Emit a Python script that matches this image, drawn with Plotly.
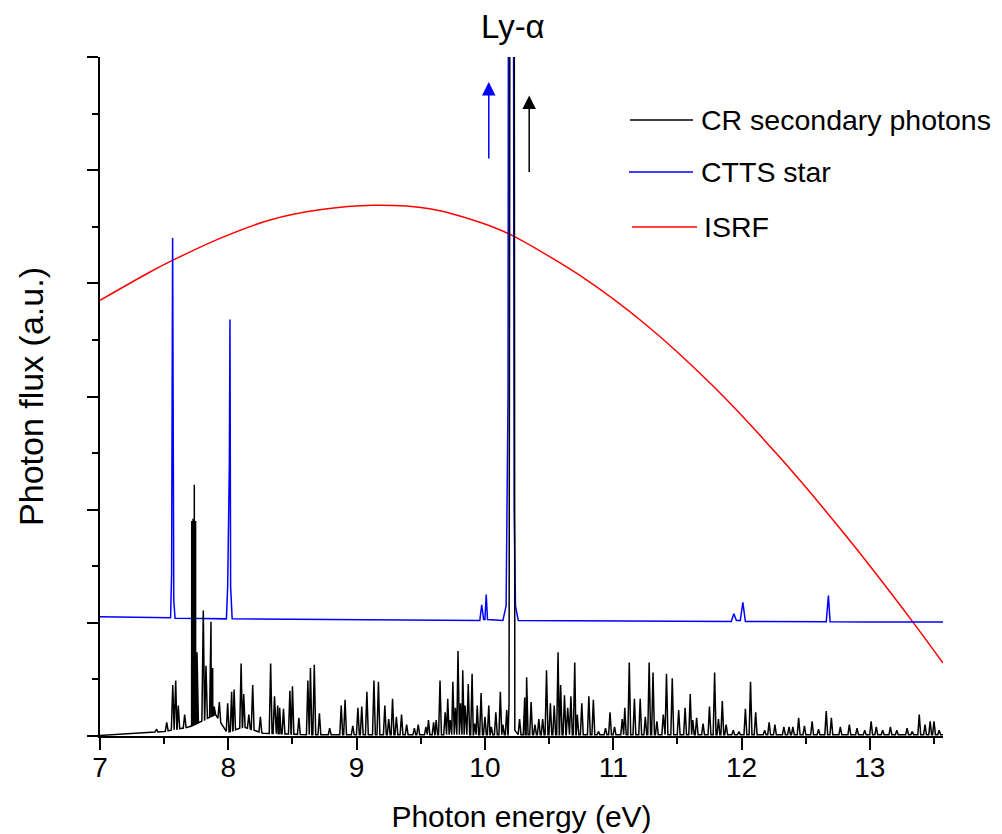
import numpy as np
import plotly.graph_objects as go

# ---------------- data ----------------
# ISRF (red)
isrf_e = [7.0, 7.39, 7.56, 7.94, 8.325, 8.71, 9.13, 9.57, 9.96, 10.20, 10.74,
          11.26, 11.78, 12.30, 12.82, 13.34, 13.57]
isrf_f = [3.85, 4.10, 4.20, 4.40, 4.56, 4.65, 4.69, 4.66, 4.54, 4.43, 4.07,
          3.63, 3.09, 2.46, 1.76, 1.00, 0.645]

# CTTS star (blue) - explicit vertices
ctts_e = [7.0, 7.3, 7.55, 7.558, 7.566, 7.575, 7.585, 7.8, 7.985, 7.995, 8.003, 8.008,
          8.013, 8.018, 8.03, 8.5, 9.0, 9.5, 9.96, 9.975, 9.99, 10.0, 10.01, 10.02,
          10.14, 10.165, 10.18, 10.185, 10.22, 10.228, 10.238, 10.26, 10.6, 11.0,
          11.5, 11.92, 11.94, 11.96, 11.99, 12.01, 12.03, 12.3, 12.66, 12.677,
          12.69, 13.0, 13.57]
ctts_f = [1.054, 1.05, 1.045, 1.42, 4.40, 1.2, 1.04, 1.038, 1.035, 1.32, 2.02, 2.39,
          3.68, 1.32, 1.035, 1.032, 1.03, 1.025, 1.02, 1.16, 1.03, 1.03, 1.25, 1.03,
          1.02, 1.15, 3.0, 9.0, 9.0, 2.0, 1.15, 1.02, 1.018, 1.015,
          1.012, 1.012, 1.08, 1.02, 1.02, 1.18, 1.012, 1.01, 1.01, 1.24,
          1.01, 1.008, 1.007]

# CR secondary photons (black) - continuum nodes
cr_cont_e = [7.0, 7.3, 7.5, 7.7, 7.9, 7.99, 8.12, 8.27, 8.6, 13.57]
cr_cont_f = [0.005, 0.025, 0.04, 0.08, 0.19, 0.03, 0.08, 0.025, 0.012, 0.012]

# CR secondary photons - line peaks (energy, height)
cr_peak_e = [7.44, 7.52, 7.567, 7.59, 7.61, 7.66, 7.715, 7.725, 7.735, 7.745, 7.756,
             7.805, 7.826, 7.865, 7.878, 7.89, 7.93, 7.995, 8.026, 8.045, 8.10, 8.12,
             8.16, 8.19, 8.25, 8.33, 8.36, 8.385, 8.40, 8.43, 8.48, 8.50, 8.55, 8.62,
             8.64, 8.67, 8.71, 8.79, 8.88, 8.91, 8.97, 9.01, 9.04, 9.08, 9.135, 9.17,
             9.22, 9.25, 9.28, 9.31, 9.35, 9.39, 9.45, 9.48, 9.54, 9.56, 9.60, 9.62,
             9.65, 9.69, 9.71, 9.73, 9.75, 9.77, 9.79, 9.81, 9.827, 9.845, 9.87, 9.90,
             9.92, 9.94, 9.97, 10.00, 10.03, 10.05, 10.085, 10.12, 10.14, 10.17, 10.19,
             10.27, 10.31, 10.325, 10.36, 10.39, 10.42, 10.45, 10.48, 10.51, 10.54,
             10.57, 10.59, 10.62, 10.645, 10.67, 10.70, 10.72, 10.755, 10.81, 10.845,
             10.885, 10.94, 10.975, 11.01, 11.07, 11.09, 11.125, 11.165, 11.21, 11.25,
             11.28, 11.31, 11.34, 11.39, 11.415, 11.46, 11.51, 11.56, 11.60, 11.62,
             11.65, 11.70, 11.75, 11.79, 11.82, 11.85, 11.88, 11.935, 11.98, 12.03,
             12.07, 12.11, 12.18, 12.215, 12.26, 12.33, 12.37, 12.40, 12.445, 12.49,
             12.55, 12.60, 12.66, 12.70, 12.77, 12.84, 12.90, 12.96, 13.01, 13.05,
             13.10, 13.16, 13.21, 13.29, 13.33, 13.385, 13.43, 13.47, 13.50, 13.54]
cr_peak_f = [0.06, 0.12, 0.45, 0.49, 0.27, 0.19, 1.90, 1.92, 2.22, 1.90, 0.74,
             1.11, 0.62, 1.01, 0.60, 0.26, 0.30, 0.29, 0.39, 0.41, 0.64, 0.37,
             0.19, 0.45, 0.17, 0.64, 0.35, 0.27, 0.25, 0.24, 0.40, 0.44, 0.16, 0.49,
             0.60, 0.63, 0.20, 0.07, 0.27, 0.32, 0.09, 0.25, 0.26, 0.39, 0.49, 0.48,
             0.27, 0.15, 0.33, 0.17, 0.19, 0.10, 0.07, 0.10, 0.08, 0.14, 0.12, 0.14,
             0.49, 0.21, 0.33, 0.14, 0.48, 0.25, 0.75, 0.29, 0.58, 0.27, 0.46, 0.55,
             0.11, 0.27, 0.38, 0.17, 0.27, 0.08, 0.21, 0.39, 0.10, 0.23, 0.49,
             0.15, 0.34, 0.52, 0.30, 0.10, 0.15, 0.15, 0.58, 0.29, 0.27,
             0.74, 0.45, 0.36, 0.25, 0.35, 0.65, 0.19, 0.29, 0.35, 0.32,
             0.04, 0.07, 0.21, 0.08, 0.15, 0.25, 0.65, 0.33, 0.33, 0.17,
             0.65, 0.56, 0.13, 0.19, 0.55, 0.51, 0.23, 0.25, 0.37, 0.14,
             0.16, 0.11, 0.26, 0.56, 0.15, 0.31, 0.10, 0.05, 0.04, 0.24,
             0.48, 0.21, 0.05, 0.12, 0.10, 0.08, 0.08, 0.08, 0.16, 0.09,
             0.13, 0.06, 0.22, 0.16, 0.08, 0.10, 0.07, 0.05, 0.13, 0.08,
             0.05, 0.08, 0.05, 0.07, 0.04, 0.19, 0.10, 0.13, 0.13, 0.05]

# Lyman-alpha line of the CR spectrum (goes off scale)
lya_e = [10.188, 10.197, 10.227, 10.233]
lya_f = [0.30, 9.0, 9.0, 0.05]

x_ticks = [7, 8, 9, 10, 11, 12, 13]
x_range = [7.0, 13.57]
y_range = [0.0, 6.0]

# ---------------- build CR line vertices from the values above ----------------
hw = 0.011
pts = []
pe = np.array(cr_peak_e)
for e, f in zip(cr_peak_e, cr_peak_f):
    pts.append((e - hw, float(np.interp(e - hw, cr_cont_e, cr_cont_f))))
    pts.append((e, f))
    pts.append((e + hw, float(np.interp(e + hw, cr_cont_e, cr_cont_f))))
for e, f in zip(cr_cont_e, cr_cont_f):
    if np.min(np.abs(pe - e)) > hw:
        pts.append((e, f))
pts = [p for p in pts if not (10.185 <= p[0] <= 10.24)]
pts += list(zip(lya_e, lya_f))
pts.sort(key=lambda p: p[0])
cr_x = [p[0] for p in pts]
cr_y = [p[1] for p in pts]

FONT = "Liberation Sans, Arial, sans-serif"

fig = go.Figure()
fig.add_trace(go.Scatter(x=isrf_e, y=isrf_f, mode="lines", name="ISRF",
                         line=dict(color="#ff0000", width=1.5, shape="spline", smoothing=0.8),
                         showlegend=False))
fig.add_trace(go.Scatter(x=ctts_e, y=ctts_f, mode="lines", name="CTTS star",
                         line=dict(color="#0000ff", width=1.5), showlegend=False))
fig.add_trace(go.Scatter(x=cr_x, y=cr_y, mode="lines", name="CR secondary photons",
                         line=dict(color="#000000", width=1.5), showlegend=False))

axis_common = dict(showgrid=False, zeroline=False, showline=True, linecolor="black",
                   linewidth=1.5, ticks="outside", tickcolor="black", tickwidth=1.5)

fig.update_xaxes(range=x_range, tickvals=x_ticks, ticklen=12, ticklabelstandoff=-6,
                 minor=dict(dtick=0.5, ticklen=6, tickwidth=1.5, tickcolor="black",
                            ticks="outside"),
                 tickfont=dict(family=FONT, size=28, color="black"),
                 title=dict(text="Photon energy (eV)",
                            font=dict(family=FONT, size=30, color="black"), standoff=24),
                 **axis_common)
fig.update_yaxes(range=y_range, dtick=1, ticklen=11, showticklabels=False,
                 minor=dict(dtick=0.5, ticklen=6, tickwidth=1.5, tickcolor="black",
                            ticks="outside"),
                 title=dict(text="Photon flux (a.u.)",
                            font=dict(family=FONT, size=34, color="black"), standoff=33),
                 **axis_common)

# legend drawn as lines + labels
legend_items = [("CR secondary photons", "#000000", 0.6287, 0.7034, 0.9072, 0.7105),
                ("CTTS star", "#0000ff", 0.6275, 0.7034, 0.8306, 0.7105),
                ("ISRF", "#ff0000", 0.6311, 0.7082, 0.7496, 0.7141)]
annotations = []
shapes = []
for name, col, x0, x1, yy, tx in legend_items:
    shapes.append(dict(type="line", xref="paper", yref="paper", x0=x0, x1=x1,
                       y0=yy, y1=yy, line=dict(color=col, width=1.5)))
    annotations.append(dict(text=name, xref="paper", yref="paper", x=tx, y=yy,
                            xanchor="left", yanchor="middle", showarrow=False,
                            font=dict(family=FONT, size=28.5, color="black")))

annotations.append(dict(text="Ly-α", xref="x", yref="paper", x=10.22, y=1.045,
                        xanchor="center", yanchor="middle", showarrow=False,
                        font=dict(family=FONT, size=33, color="black")))
# arrows marking off-scale Ly-alpha lines
annotations.append(dict(text="", xref="x", yref="y", axref="x", ayref="y",
                        x=10.03, y=5.78, ax=10.03, ay=5.09, showarrow=True,
                        arrowhead=2, arrowsize=1.8, arrowwidth=1.5, arrowcolor="#0000ff"))
annotations.append(dict(text="", xref="x", yref="y", axref="x", ayref="y",
                        x=10.345, y=5.66, ax=10.345, ay=4.97, showarrow=True,
                        arrowhead=2, arrowsize=1.8, arrowwidth=1.5, arrowcolor="#000000"))

# the page adds an 8 px body margin, so the figure is placed 8 px right/down;
# margins compensate so the plot area lands where it is in the reference
fig.update_layout(width=1002, height=834, paper_bgcolor="white", plot_bgcolor="white",
                  margin=dict(l=92, r=67, t=49, b=106, autoexpand=False),
                  font=dict(family=FONT, color="black"),
                  showlegend=False, annotations=annotations, shapes=shapes)

fig.write_html("out.html")
